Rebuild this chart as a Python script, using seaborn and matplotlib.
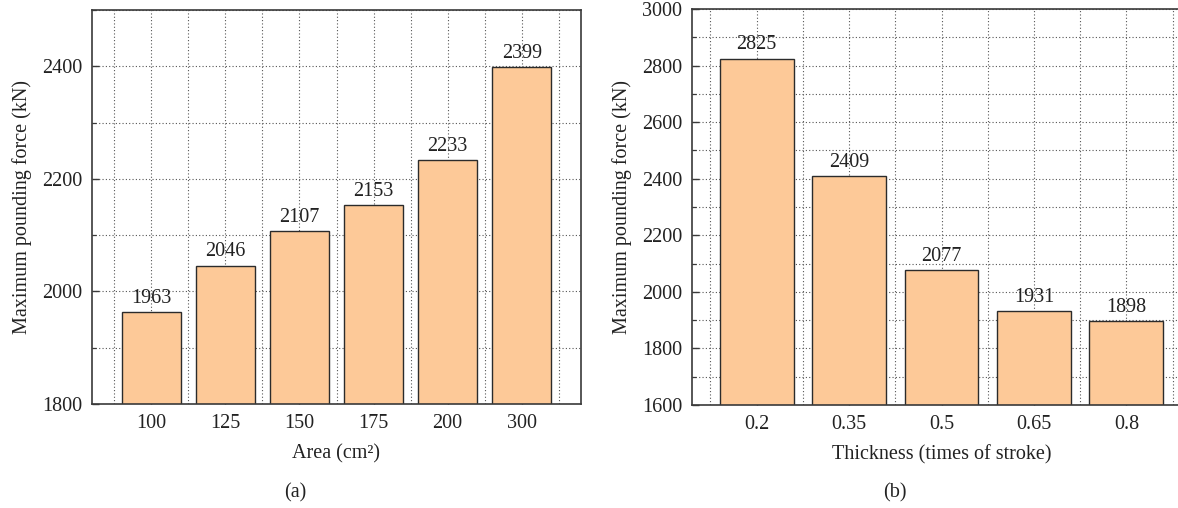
import matplotlib
matplotlib.use("Agg")
import matplotlib.pyplot as plt
import seaborn as sns
import pandas as pd
from matplotlib.ticker import MultipleLocator

area_labels = ["100", "125", "150", "175", "200", "300"]
area_force = [1963, 2046, 2107, 2153, 2233, 2399]

thick_labels = ["0.2", "0.35", "0.5", "0.65", "0.8"]
thick_force = [2825, 2409, 2077, 1931, 1898]

sns.set_theme(style="white")
plt.rcParams["font.family"] = ["Liberation Serif", "DejaVu Serif"]

BAR = "#FDC998"
EDGE = "#2b2b2b"
SPINE = "#3a3a3a"
GRID = "#555555"
FS = 14.5

fig = plt.figure(figsize=(11.78, 5.08), dpi=100)
W, H = 1178, 508

def make_ax(left_px, right_px, top_px, bottom_px):
    return fig.add_axes([left_px / W, 1 - bottom_px / H,
                         (right_px - left_px) / W, (bottom_px - top_px) / H])

ax1 = make_ax(92, 581, 10, 404)
ax2 = make_ax(692, 1191, 9, 405)

def style(ax, cats, vals, ylim, ymaj, ymin, xlabel, xlim):
    df = pd.DataFrame({"cat": cats, "val": vals})
    sns.barplot(data=df, x="cat", y="val", order=cats, ax=ax, color=BAR,
                saturation=1, edgecolor=EDGE, linewidth=1.0, width=0.8, zorder=2)
    ax.set_axisbelow(True)
    ax.set_ylim(*ylim)
    ax.set_xlim(*xlim)
    ax.yaxis.set_major_locator(MultipleLocator(ymaj))
    ax.yaxis.set_minor_locator(MultipleLocator(ymin))
    ax.xaxis.set_minor_locator(MultipleLocator(0.5))
    ax.grid(True, which="both", axis="both", linestyle=(0, (1, 2)),
            color=GRID, linewidth=0.8, zorder=0)
    ax.tick_params(axis="both", which="major", direction="in", length=5,
                   width=1.0, color=SPINE, labelsize=FS, labelcolor="#222222", pad=7)
    ax.tick_params(axis="y", which="minor", direction="in", length=3,
                   width=0.9, color=SPINE, left=True)
    ax.tick_params(axis="x", which="minor", length=0)
    ax.tick_params(axis="x", which="major", bottom=True, length=5)
    ax.tick_params(axis="y", which="major", left=True)
    for s in ax.spines.values():
        s.set_color(SPINE)
        s.set_linewidth(1.2)
        s.set_zorder(5)
    ax.set_xlabel(xlabel, fontsize=FS, color="#222222", labelpad=8)
    ax.set_ylabel("Maximum pounding force (kN)", fontsize=FS, color="#222222", labelpad=7)
    for c in ax.containers:
        ax.bar_label(c, labels=[str(v) for v in vals], padding=3,
                     fontsize=FS, color="#222222")

style(ax1, area_labels, area_force, (1800, 2500), 200, 100,
      "Area (cm²)", (-0.8, 5.8))
style(ax2, thick_labels, thick_force, (1600, 3000), 200, 100,
      "Thickness (times of stroke)", (-0.7, 4.7))

fig.text(295 / W, 1 - 493 / H, "(a)", ha="center", va="center", fontsize=FS, color="#222222")
fig.text(895 / W, 1 - 493 / H, "(b)", ha="center", va="center", fontsize=FS, color="#222222")

fig.savefig("out.png", dpi=100)
